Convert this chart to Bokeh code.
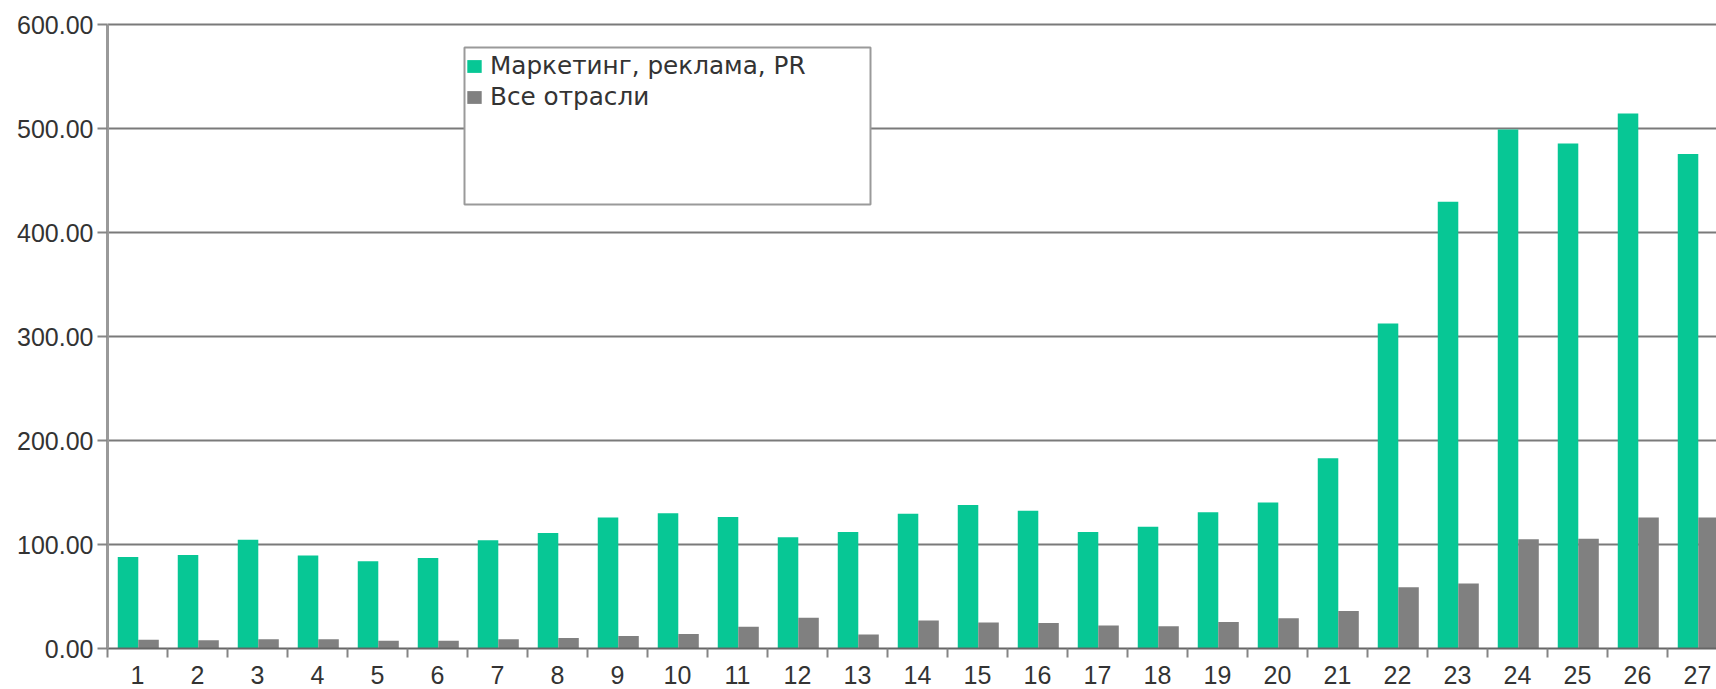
from bokeh.plotting import figure
from bokeh.models import (ColumnDataSource, FixedTicker, NumeralTickFormatter, Legend,
                          LegendItem, BoxAnnotation, Range1d)
from bokeh.transform import dodge
from bokeh.embed import file_html
from bokeh.resources import INLINE

categories = [str(i) for i in range(1, 28)]
marketing = [88, 90, 104.5, 89.5, 84, 87, 104, 111, 126, 130, 126.5, 107, 112, 129.5,
             138, 132.5, 112, 117, 131, 140.5, 183, 312.5, 429.5, 499, 485.5, 514.5, 475.5]
all_industries = [8.5, 8, 9, 9, 7.5, 7.5, 9, 10, 12, 14, 21, 29.5, 13.5, 27, 25, 24.5,
                  22, 21.5, 25.5, 29, 36, 59, 62.5, 105, 105.5, 126, 126]
series_names = ["Маркетинг, реклама, PR", "Все отрасли"]
y_ticks = [0, 100, 200, 300, 400, 500, 600]

GREEN = "#07C795"
GRAY = "#808080"
FONT = "Liberation Sans"
LEGEND_FONT = "DejaVu Sans"

xpos = list(range(1, len(categories) + 1))
src = ColumnDataSource(dict(x=xpos, mkt=marketing, allv=all_industries))

W, H = 1716, 689
ML, MR, MT, MB = 107, 0, 14, 41
frame_w = W - ML - MR
frame_h = H - MT - MB
px_per_cat = 60.0
px_per_unit = 1.04

p = figure(width=W, height=H, output_backend="svg", toolbar_location=None,
           x_range=Range1d(0.5, 0.5 + frame_w / px_per_cat),
           y_range=Range1d(0, frame_h / px_per_unit),
           min_border_left=ML, min_border_right=MR, min_border_top=MT, min_border_bottom=MB)
p.outline_line_color = None
p.background_fill_color = "white"

r1 = p.vbar(x=dodge('x', -0.158), top='mkt', width=0.342, source=src,
            fill_color=GREEN, line_color=None)
r2 = p.vbar(x=dodge('x', 0.184), top='allv', width=0.342, source=src,
            fill_color=GRAY, line_color=None)

# x axis: labels at category centres, tick marks at category boundaries
xa = p.xaxis[0]
xa.ticker = FixedTicker(ticks=xpos, minor_ticks=[i + 0.5 for i in range(0, len(categories) + 1)])
xa.major_label_overrides = {x: c for x, c in zip(xpos, categories)}
xa.major_tick_line_color = None
xa.major_tick_out = 9
xa.major_tick_in = 0
xa.minor_tick_line_color = "#858585"
xa.minor_tick_line_width = 2
xa.minor_tick_out = 9
xa.minor_tick_in = 0
xa.axis_line_color = "#666666"
xa.axis_line_width = 2
xa.major_label_standoff = 8
xa.major_label_text_font = FONT
xa.major_label_text_font_size = "25px"
xa.major_label_text_color = "#333333"

# y axis
ya = p.yaxis[0]
ya.ticker = FixedTicker(ticks=y_ticks)
ya.formatter = NumeralTickFormatter(format="0.00")
ya.bounds = (y_ticks[0], y_ticks[-1])
ya.major_tick_out = 10
ya.major_tick_in = 0
ya.major_tick_line_color = "#858585"
ya.major_tick_line_width = 2
ya.minor_tick_line_color = None
ya.axis_line_color = "#9a9a9a"
ya.axis_line_width = 3
ya.major_label_standoff = 4
ya.major_label_text_font = FONT
ya.major_label_text_font_size = "25px"
ya.major_label_text_color = "#333333"

p.xgrid.visible = False
p.ygrid.ticker = FixedTicker(ticks=y_ticks)
p.ygrid.grid_line_color = "#7a7a7a"
p.ygrid.grid_line_width = 2

box = BoxAnnotation(left=357, right=763, top=601, bottom=444,
                    left_units="screen", right_units="screen",
                    top_units="screen", bottom_units="screen",
                    fill_color="white", fill_alpha=1.0,
                    line_color="#9a9a9a", line_width=2, line_alpha=1.0)
p.add_layout(box)

legend = Legend(items=[LegendItem(label=series_names[0], renderers=[r1]),
                       LegendItem(label=series_names[1], renderers=[r2])],
                location=(358, 536), padding=0, margin=0, spacing=0,
                glyph_width=18, glyph_height=16, label_height=31, label_standoff=7,
                label_text_font=LEGEND_FONT, label_text_font_size="24.7px",
                label_text_color="#333333",
                border_line_color=None, background_fill_alpha=0)
p.add_layout(legend)

open("out.html", "w").write(file_html(p, INLINE))
